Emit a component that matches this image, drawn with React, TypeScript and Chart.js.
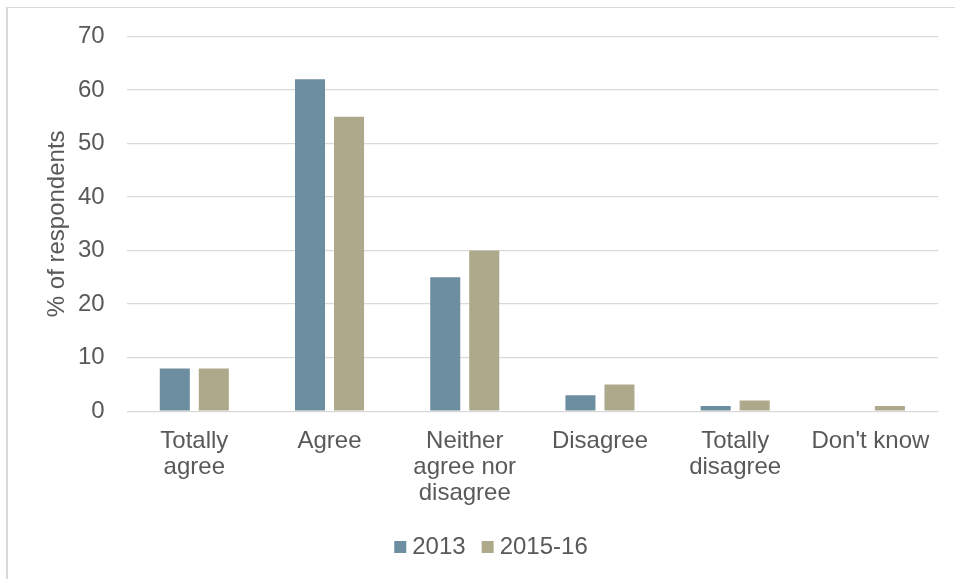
import React, { useEffect, useRef } from "react";
import { Chart, registerables } from "chart.js";

Chart.register(...registerables);

const categories: string[][] = [
  ["Totally", "agree"],
  ["Agree"],
  ["Neither", "agree nor", "disagree"],
  ["Disagree"],
  ["Totally", "disagree"],
  ["Don't know"],
];
const series2013 = [8, 62, 25, 3, 1, 0];
const series2015 = [8, 55, 30, 5, 2, 1];
const seriesNames = ["2013", "2015-16"];
const yTitle = "% of respondents";

const FONT = "'Liberation Sans', Arial, sans-serif";
const TEXT = "#595959";

const yTitlePlugin = {
  id: "yTitlePlugin",
  afterDraw(chart: any) {
    const { ctx, chartArea } = chart;
    ctx.save();
    ctx.fillStyle = TEXT;
    ctx.font = `24px ${FONT}`;
    ctx.textAlign = "center";
    ctx.textBaseline = "middle";
    ctx.translate(chartArea.left - 69, (chartArea.top + chartArea.bottom) / 2);
    ctx.rotate(-Math.PI / 2);
    ctx.fillText(yTitle, 0, 0);
    ctx.restore();
  },
};

const legendShiftPlugin = {
  id: "legendShiftPlugin",
  afterLayout(chart: any) {
    const lg = chart.legend;
    if (lg) {
      lg.left -= 3;
      lg.right -= 3;
    }
  },
};

export default function App() {
  const ref = useRef<HTMLCanvasElement | null>(null);
  useEffect(() => {
    document.body.style.margin = "0";
    const ctx = ref.current!.getContext("2d")!;
    const chart = new Chart(ctx, {
      type: "bar",
      data: {
        labels: categories,
        datasets: [
          { label: seriesNames[0], data: series2013, backgroundColor: "#6C8EA0" },
          { label: seriesNames[1], data: series2015, backgroundColor: "#ADA98A" },
        ],
      },
      plugins: [yTitlePlugin, legendShiftPlugin],
      options: {
        animation: false,
        responsive: false,
        maintainAspectRatio: false,
        layout: { padding: { left: 56, right: 17, top: 29, bottom: 10 } },
        datasets: { bar: { categoryPercentage: 0.577, barPercentage: 0.77 } },
        plugins: {
          legend: {
            position: "bottom",
            labels: {
              usePointStyle: true,
              pointStyle: "rect",
              boxWidth: 0.01,
              boxHeight: 12,
              color: TEXT,
              font: { family: FONT, size: 24 },
              padding: 22,
            },
          },
          tooltip: { enabled: false },
        },
        scales: {
          x: {
            grid: { display: false },
            border: { display: false },
            ticks: {
              color: TEXT,
              font: { family: FONT, size: 24, lineHeight: 1.08 },
              maxRotation: 0,
              autoSkip: false,
              padding: 9,
            },
            afterFit(scale: any) {
              scale.height -= 2;
            },
          },
          y: {
            min: 0,
            max: 70,
            grid: { color: "#d9d9d9", lineWidth: 1.3, drawTicks: false },
            border: { display: false },
            ticks: {
              stepSize: 10,
              color: TEXT,
              font: { family: FONT, size: 24 },
              padding: 22,
            },
          },
        },
      },
    });
    return () => chart.destroy();
  }, []);
  return (
    <div style={{ position: "fixed", left: 0, top: 0, width: 955, height: 579, background: "#fff", overflow: "hidden" }}>
      <canvas ref={ref} width={955} height={579} style={{ position: "absolute", left: 0, top: 0 }} />
      <div
        style={{
          position: "absolute",
          left: 6,
          top: 7,
          width: 1000,
          height: 700,
          borderLeft: "2px solid #d9d9d9",
          borderTop: "1px solid #d9d9d9",
          pointerEvents: "none",
        }}
      />
    </div>
  );
}
